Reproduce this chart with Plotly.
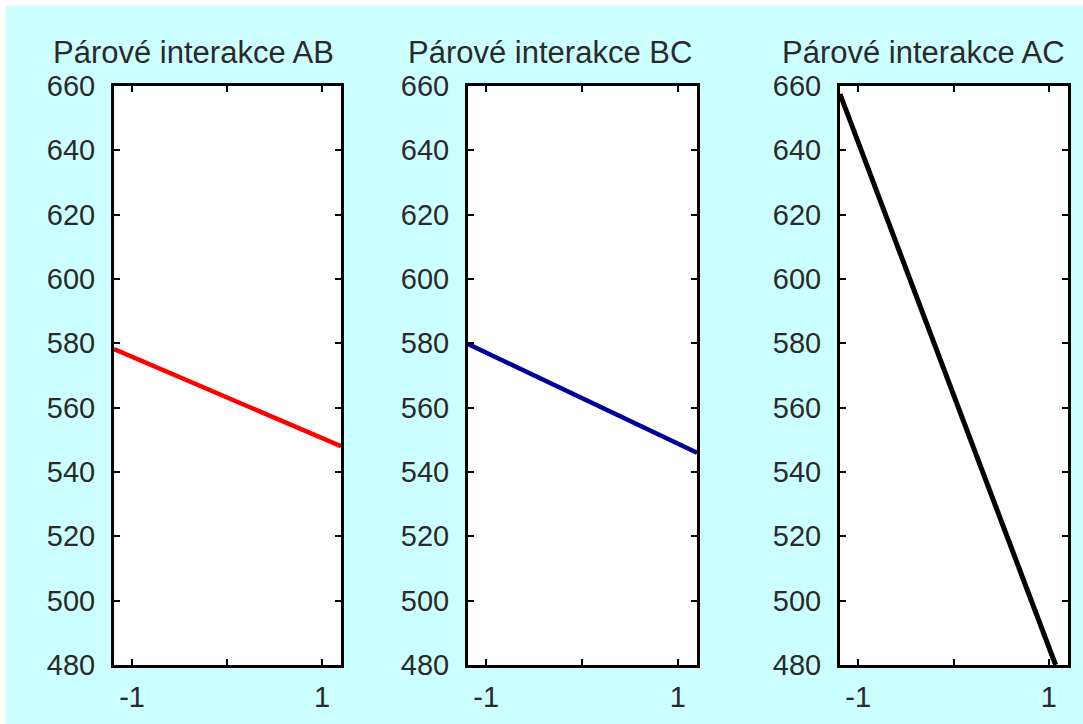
import plotly.graph_objects as go

W, H = 1083, 724

titles = ["Párové interakce AB", "Párové interakce BC", "Párové interakce AC"]
x_ab = [-1.19, 1.2]
y_ab = [578.2, 548.0]
x_bc = [-1.19, 1.2]
y_bc = [579.8, 546.0]
x_ac = [-1.19, 1.07]
y_ac = [657.5, 480.0]
colors = ["#ff0000", "#000099", "#000000"]
line_widths = [4.5, 4.5, 5]

y_ticks = list(range(480, 661, 20))
x_tickvals = [-1, 0, 1]
x_ticktext = ["-1", "", "1"]

# panel boxes in pixels
px_x = [(114, 341), (468, 697), (840, 1068)]
px_top, px_bot = 86, 665
title_cx = [193, 550, 923]

fig = go.Figure()
series = [(x_ab, y_ab), (x_bc, y_bc), (x_ac, y_ac)]
font_fam = "Liberation Sans, Arial, sans-serif"
txt_col = "#2a2a2a"

for i, (xs, ys) in enumerate(series):
    sfx = "" if i == 0 else str(i + 1)
    fig.add_trace(go.Scatter(x=xs, y=ys, mode="lines",
                             line=dict(color=colors[i], width=line_widths[i]),
                             xaxis="x" + sfx, yaxis="y" + sfx, showlegend=False,
                             hoverinfo="skip"))
    xa = dict(domain=[px_x[i][0] / W, px_x[i][1] / W], range=[-1.19, 1.2],
              tickvals=x_tickvals, ticktext=x_ticktext, ticks="inside", ticklen=6,
              tickwidth=2, tickcolor="black", showline=True, linecolor="black",
              linewidth=3, mirror="allticks", showgrid=False, zeroline=False,
              anchor="y" + sfx, ticklabelstandoff=4, automargin=False,
              tickfont=dict(family=font_fam, size=29, color=txt_col))
    ya = dict(domain=[1 - px_bot / H, 1 - px_top / H], range=[480, 660],
              tickvals=y_ticks, ticks="inside", ticklen=6, tickwidth=2,
              tickcolor="black", showline=True, linecolor="black", linewidth=3,
              mirror="allticks", showgrid=False, zeroline=False,
              anchor="x" + sfx, ticklabelstandoff=10, automargin=False,
              tickfont=dict(family=font_fam, size=29, color=txt_col))
    fig.layout["xaxis" + sfx] = xa
    fig.layout["yaxis" + sfx] = ya
    fig.add_annotation(text=titles[i], x=title_cx[i] / W, y=1 - 52 / H,
                       xref="paper", yref="paper", showarrow=False,
                       xanchor="center", yanchor="middle",
                       font=dict(family=font_fam, size=31, color=txt_col))

# white strips on top and left edges
fig.add_shape(type="rect", xref="paper", yref="paper", x0=0, x1=1, y0=1 - 6 / H,
              y1=1, fillcolor="white", line=dict(width=0), layer="below")
fig.add_shape(type="rect", xref="paper", yref="paper", x0=0, x1=6 / W, y0=0,
              y1=1, fillcolor="white", line=dict(width=0), layer="below")

fig.update_layout(width=W, height=H, margin=dict(l=0, r=0, t=0, b=0, pad=0),
                  paper_bgcolor="#ccffff", plot_bgcolor="white")

fig.write_html("out.html", config={"displayModeBar": False},
               post_script="document.body.style.margin='0';document.body.style.overflow='hidden';")
